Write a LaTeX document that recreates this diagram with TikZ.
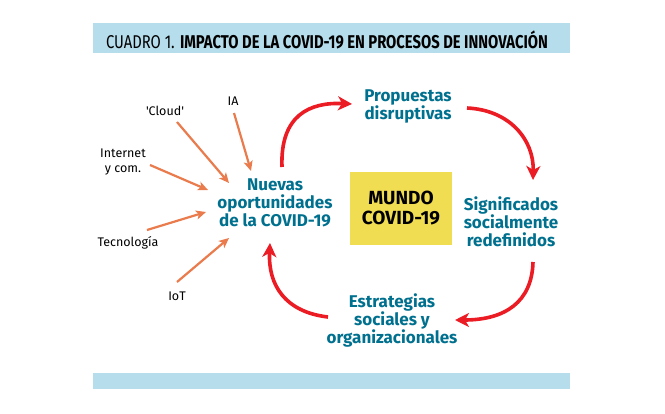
\documentclass[tikz,border=0pt]{standalone}
\usepackage{fontspec}
\setmainfont{Fira Sans}
\newfontfamily\condfont{Fira Sans}[FakeStretch=0.8]
\usetikzlibrary{arrows.meta}
\definecolor{barblue}{HTML}{B5DDEC}
\definecolor{labblue}{HTML}{00708F}
\definecolor{boxyellow}{HTML}{F1DD52}
\definecolor{orangearr}{HTML}{EA7B4C}
\definecolor{redarr}{HTML}{EC1C24}
\tikzset{
  bluelab/.style={text=labblue,font=\fontsize{17}{18}\selectfont\bfseries,align=center,inner sep=0pt},
  blacklab/.style={text=black,font=\fontsize{12.5}{15}\selectfont,align=center,inner sep=0pt},
  orangearrow/.style={draw=orangearr,line width=2.2pt,-{Stealth[length=10pt,width=9pt,inset=2.5pt]}},
  redarrow/.style={draw=redarr,line width=3.6pt,-{Stealth[length=14pt,width=14pt,inset=4pt]}},
}
\begin{document}
\begin{tikzpicture}[x=1pt,y=-1pt]
\useasboundingbox (0,0) rectangle (665,413);
\fill[white] (0,0) rectangle (665,413);
% bars
\node[fill=barblue,minimum width=477pt,minimum height=30pt,inner sep=0pt,anchor=north west] (topbar) at (93,23) {};
\node[fill=barblue,minimum width=477pt,minimum height=16pt,inner sep=0pt,anchor=north west] (botbar) at (93,373) {};
\node[inner sep=0pt,font=\condfont\fontsize{18.5}{20}\selectfont] (title) at (327,40) {CUADRO 1. \textbf{IMPACTO DE LA COVID-19 EN PROCESOS DE INNOVACIÓN}};
% central box
\node[fill=boxyellow,minimum width=102pt,minimum height=73pt,inner sep=0pt,font=\fontsize{19}{20}\selectfont\bfseries,align=center] (mundo) at (401,208.5) {MUNDO\\COVID-19};
% blue labels
\node[bluelab] (nuevas) at (275,203) {Nuevas\\oportunidades\\de la COVID-19};
\node[bluelab] (prop) at (408,106) {Propuestas\\disruptivas};
\node[bluelab] (sig) at (511,222) {Significados\\socialmente\\redefinidos};
\node[bluelab] (estr) at (392,320) {Estrategias\\sociales y\\organizacionales};
% black labels
\node[blacklab] (ia) at (233,101) {IA};
\node[blacklab] (cloud) at (165,111) {\textquotesingle Cloud\textquotesingle};
\node[blacklab] (internet) at (123,162) {Internet\\y com.};
\node[blacklab] (tec) at (128,243) {Tecnología};
\node[blacklab] (iot) at (177,296) {IoT};
% coordinates
\coordinate (iaS) at (234,113);
\coordinate (iaE) at (251,171);
\coordinate (clS) at (177,122);
\coordinate (clE) at (229,183);
\coordinate (inS) at (150,165);
\coordinate (inE) at (208,190);
\coordinate (teS) at (147,230);
\coordinate (teE) at (206,212);
\coordinate (ioS) at (177,282);
\coordinate (ioE) at (229,238);
\draw[orangearrow] (iaS) -- (iaE);
\draw[orangearrow] (clS) -- (clE);
\draw[orangearrow] (inS) -- (inE);
\draw[orangearrow] (teS) -- (teE);
\draw[orangearrow] (ioS) -- (ioE);
% red cycle
\coordinate (r1s) at (282,167);
\coordinate (r1e) at (352,104);
\coordinate (r2s) at (467,108);
\coordinate (r2e) at (533,180);
\coordinate (r3s) at (533,262);
\coordinate (r3e) at (455,320);
\coordinate (r4s) at (328,317);
\coordinate (r4e) at (270,243);
\draw[redarrow] (r1s) .. controls (280,115) and (310,102) .. (r1e);
\draw[redarrow] (r2s) .. controls (510,110) and (534,140) .. (r2e);
\draw[redarrow] (r3s) .. controls (532,302) and (505,320) .. (r3e);
\draw[redarrow] (r4s) .. controls (285,312) and (268,285) .. (r4e);
\end{tikzpicture}
\end{document}
